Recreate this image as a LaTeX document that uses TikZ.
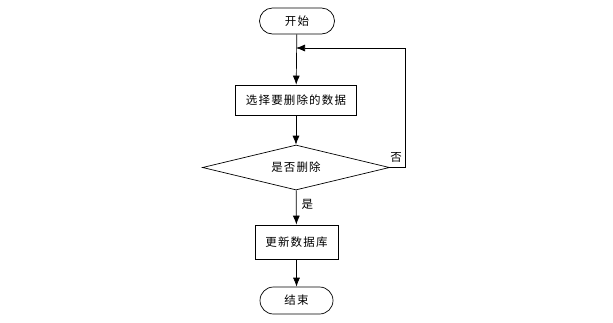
\documentclass[tikz,border=0pt]{standalone}
\usepackage{fontspec}
\newfontfamily\cjk[LetterSpace=10]{Noto Sans CJK SC}
\usetikzlibrary{shapes.geometric,shapes.misc,arrows.meta}
\begin{document}
\begin{tikzpicture}[x=1pt,y=-1pt,
  every node/.style={font=\cjk\fontsize{11.5}{13}\selectfont, inner sep=0pt},
  term/.style={draw, rounded rectangle, minimum width=75pt, minimum height=26pt},
  proc/.style={draw, rectangle, minimum height=30pt},
  dec/.style={draw, diamond, aspect=4.1, minimum width=187pt, minimum height=45pt},
  arr/.style={-{Latex[length=9pt,width=7pt]}, line width=0.7pt},
  line width=0.7pt]
\useasboundingbox (0,0) rectangle (613,322);
\node[term] (start) at (297,21) {开始};
\node[proc, minimum width=121pt] (sel) at (296,100) {选择要删除的数据};
\node[dec] (d) at (296,167.5) {是否删除};
\node[proc, minimum width=83pt, minimum height=34pt] (upd) at (296.5,242) {更新数据库};
\node[term, minimum width=73pt, minimum height=27pt] (end) at (296.5,300.5) {结束};
\coordinate (j) at (296,48);
\coordinate (r1) at (405,167.5);
\coordinate (r2) at (405,48);
\draw[arr] (start) -- (sel);
\draw[arr] (sel) -- (d);
\draw[arr] (d) -- node[right=5pt, pos=0.4] {是} (upd);
\draw[arr] (upd) -- (end);
\draw[arr] (d.east) -- (r1) -- (r2) -- (j);
\node at (396,157) {否};
\end{tikzpicture}
\end{document}
